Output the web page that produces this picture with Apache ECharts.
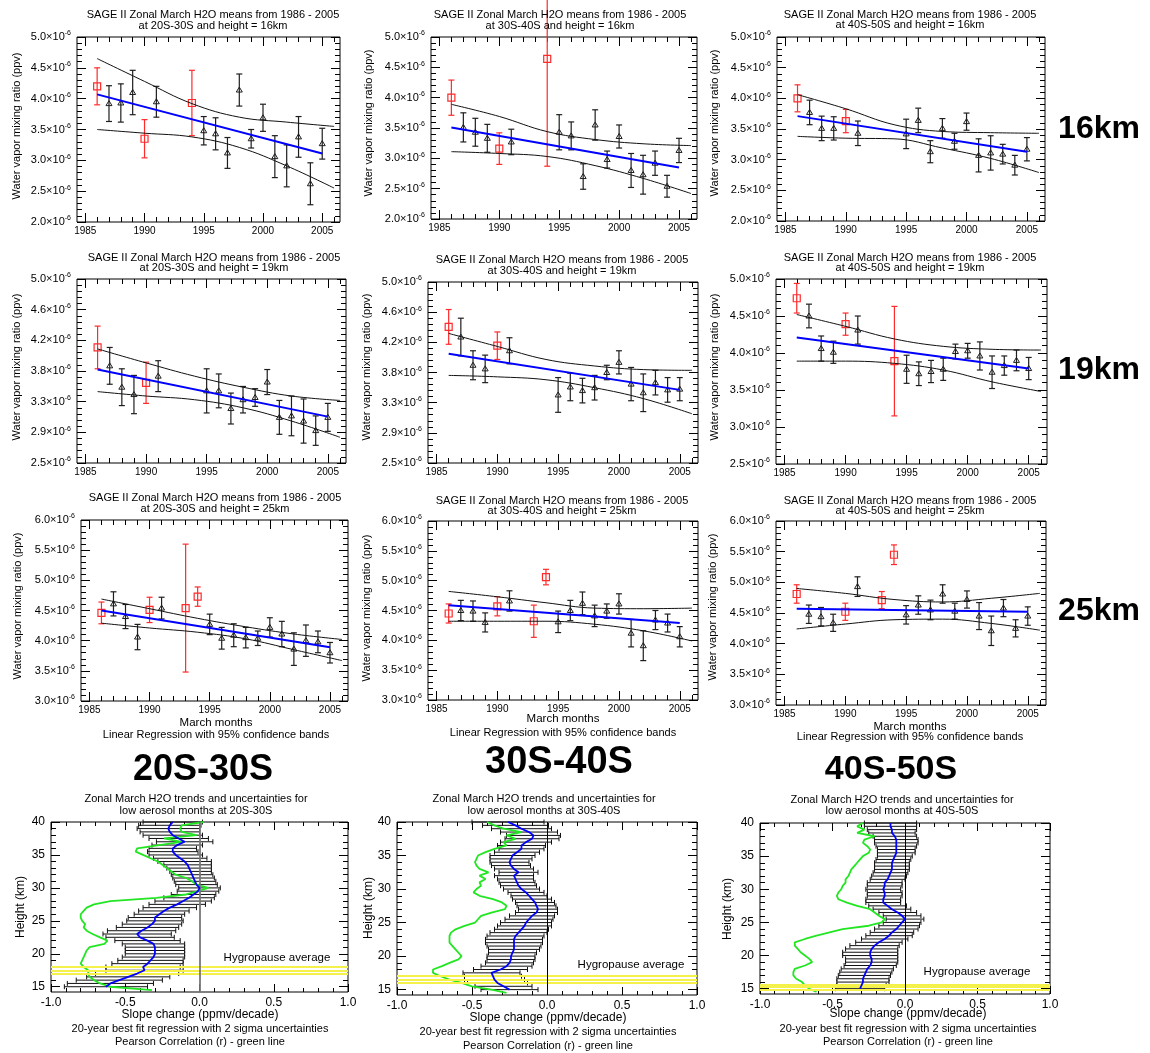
<!DOCTYPE html>
<html><head><meta charset="utf-8">
<script src="https://cdn.jsdelivr.net/npm/echarts@6/dist/echarts.min.js"></script>
<style>html,body{margin:0;padding:0;background:#fff}#c{width:1150px;height:1053px}</style>
</head><body><div id="c"></div>
<script>
const FONT = '"Liberation Sans", Arial, Helvetica, sans-serif';

// ---------------- tick labels ----------------
const yearTicks = [1985, 1990, 1995, 2000, 2005];
const yearLabels = ['1985', '1990', '1995', '2000', '2005'];
const yearMinor = [1986,1987,1988,1989,1991,1992,1993,1994,1996,1997,1998,1999,2001,2002,2003,2004,2006];
const yTicks16 = [2.0, 2.5, 3.0, 3.5, 4.0, 4.5, 5.0];
const yLabels16 = ['2.0', '2.5', '3.0', '3.5', '4.0', '4.5', '5.0'];
const yTicks19 = [2.5, 2.9166667, 3.3333333, 3.75, 4.1666667, 4.5833333, 5.0];
const yLabels19 = ['2.5', '2.9', '3.3', '3.8', '4.2', '4.6', '5.0'];
const yTicks19b = [2.5, 3.0, 3.5, 4.0, 4.5, 5.0];
const yLabels19b = ['2.5', '3.0', '3.5', '4.0', '4.5', '5.0'];
const yTicks25 = [3.0, 3.5, 4.0, 4.5, 5.0, 5.5, 6.0];
const yLabels25 = ['3.0', '3.5', '4.0', '4.5', '5.0', '5.5', '6.0'];
const slopeTicks = [-1, -0.5, 0, 0.5, 1];
const slopeLabels = ['-1.0', '-0.5', '0.0', '0.5', '1.0'];
const heightTicks = [15, 20, 25, 30, 35, 40];
const heightLabels = ['15', '20', '25', '30', '35', '40'];

// ---------------- scatter data (values in units of 1e-6 ppv) ----------------
const fitYears = [1986, 2005];
const bandYears = [1986, 1990, 1994, 1998, 2002, 2006];

// 16 km, 20S-30S
const yrs16_2030 = [1986,1987,1988,1989,1990,1991,1994,1995,1996,1997,1998,1999,2000,2001,2002,2003,2004,2005];
const h2o16_2030 = [4.20,3.92,3.93,4.10,3.35,3.95,3.93,3.48,3.43,3.12,4.14,3.35,3.69,3.06,2.91,3.38,2.62,3.27];
const err16_2030 = [0.30,0.29,0.31,0.36,0.31,0.25,0.53,0.23,0.26,0.25,0.26,0.15,0.22,0.34,0.34,0.33,0.34,0.25];
const red16_2030 = [1986, 1990, 1994];
const fit16_2030 = [4.07, 3.11];
const up16_2030 = [4.65, 4.28, 3.92, 3.70, 3.62, 3.55];
const lo16_2030 = [3.50, 3.44, 3.38, 3.21, 2.91, 2.55];

// 16 km, 30S-40S
const yrs16_3040 = [1986,1987,1988,1989,1990,1991,1994,1995,1996,1997,1998,1999,2000,2001,2002,2003,2004,2005];
const h2o16_3040 = [4.00,3.51,3.43,3.33,3.16,3.27,4.64,3.43,3.37,2.70,3.55,2.98,3.36,2.80,2.73,2.92,2.54,3.13];
const err16_3040 = [0.29,0.24,0.23,0.23,0.26,0.21,1.77,0.29,0.23,0.21,0.25,0.14,0.19,0.28,0.32,0.20,0.18,0.20];
const red16_3040 = [1986, 1990, 1994];
const fit16_3040 = [3.51, 2.85];
const up16_3040 = [3.89, 3.69, 3.44, 3.31, 3.24, 3.21];
const lo16_3040 = [3.11, 3.08, 3.03, 2.88, 2.67, 2.42];

// 16 km, 40S-50S
const yrs16_4050 = [1986,1987,1988,1989,1990,1991,1995,1996,1997,1998,1999,2000,2001,2002,2003,2004,2005];
const h2o16_4050 = [4.00,3.77,3.51,3.51,3.63,3.43,3.42,3.64,3.13,3.51,3.30,3.62,3.07,3.11,3.09,2.91,3.17];
const err16_4050 = [0.22,0.20,0.20,0.19,0.19,0.20,0.24,0.20,0.18,0.16,0.13,0.14,0.27,0.28,0.16,0.16,0.19];
const red16_4050 = [1986, 1990];
const fit16_4050 = [3.71, 3.13];
const up16_4050 = [4.06, 3.83, 3.57, 3.46, 3.44, 3.43];
const lo16_4050 = [3.38, 3.35, 3.34, 3.19, 3.02, 2.79];

// 19 km, 20S-30S
const yrs19_2030 = [1986,1987,1988,1989,1990,1991,1995,1996,1997,1998,1999,2000,2001,2002,2003,2004,2005];
const h2o19_2030 = [4.07,3.82,3.53,3.43,3.59,3.68,3.48,3.48,3.24,3.36,3.39,3.60,3.12,3.14,3.07,2.94,3.12];
const err19_2030 = [0.29,0.25,0.25,0.26,0.28,0.21,0.30,0.23,0.21,0.18,0.12,0.17,0.23,0.27,0.30,0.20,0.19];
const red19_2030 = [1986, 1990];
const fit19_2030 = [3.77, 3.13];
const up19_2030 = [4.05, 3.86, 3.68, 3.53, 3.41, 3.35];
const lo19_2030 = [3.47, 3.41, 3.36, 3.25, 3.07, 2.85];

// 19 km, 30S-40S
const yrs19_3040 = [1986,1987,1988,1989,1990,1991,1995,1996,1997,1998,1999,2000,2001,2002,2003,2004,2005];
const h2o19_3040 = [4.38,4.24,3.85,3.80,4.12,4.05,3.44,3.55,3.50,3.54,3.75,3.89,3.59,3.47,3.61,3.51,3.52];
const err19_3040 = [0.24,0.26,0.20,0.19,0.19,0.18,0.24,0.19,0.17,0.17,0.10,0.16,0.23,0.26,0.17,0.17,0.16];
const red19_3040 = [1986, 1990];
const fit19_3040 = [4.01, 3.51];
const up19_3040 = [4.29, 4.11, 3.93, 3.84, 3.79, 3.78];
const lo19_3040 = [3.71, 3.69, 3.65, 3.54, 3.39, 3.18];

// 19 km, 40S-50S
const yrs19_4050 = [1986,1987,1988,1989,1990,1991,1994,1995,1996,1997,1998,1999,2000,2001,2002,2003,2004,2005];
const h2o19_4050 = [4.74,4.50,4.06,4.01,4.39,4.31,3.89,3.78,3.72,3.75,3.78,4.02,4.03,3.96,3.74,3.83,3.90,3.79];
const err19_4050 = [0.20,0.16,0.17,0.15,0.15,0.19,0.74,0.19,0.16,0.15,0.15,0.10,0.10,0.19,0.22,0.13,0.14,0.15];
const red19_4050 = [1986, 1990, 1994];
const fit19_4050 = [4.21, 3.79];
const up19_4050 = [4.52, 4.36, 4.19, 4.09, 4.05, 4.04];
const lo19_4050 = [3.89, 3.89, 3.86, 3.77, 3.61, 3.48];

// 25 km, 20S-30S
const yrs25_2030 = [1986,1987,1988,1989,1990,1991,1993,1994,1995,1996,1997,1998,1999,2000,2001,2002,2003,2004,2005];
const h2o25_2030 = [4.46,4.61,4.40,4.06,4.51,4.54,4.54,4.73,4.27,4.04,4.09,4.05,4.04,4.22,4.11,3.86,4.00,3.98,3.80];
const err25_2030 = [0.18,0.20,0.20,0.21,0.21,0.18,1.06,0.16,0.17,0.18,0.19,0.17,0.12,0.16,0.21,0.27,0.26,0.18,0.17];
const red25_2030 = [1986, 1990, 1993, 1994];
const fit25_2030 = [4.50, 3.89];
const up25_2030 = [4.69, 4.53, 4.37, 4.23, 4.11, 4.02];
const lo25_2030 = [4.29, 4.21, 4.14, 4.03, 3.85, 3.67];

// 25 km, 30S-40S
const yrs25_3040 = [1986,1987,1988,1989,1990,1991,1993,1994,1995,1996,1997,1998,1999,2000,2001,2002,2003,2004,2005];
const h2o25_3040 = [4.45,4.50,4.49,4.30,4.57,4.66,4.32,5.06,4.31,4.50,4.62,4.41,4.49,4.61,4.12,3.91,4.34,4.29,4.06];
const err25_3040 = [0.16,0.17,0.17,0.16,0.16,0.17,0.27,0.13,0.18,0.17,0.19,0.18,0.12,0.17,0.23,0.25,0.16,0.15,0.17];
const red25_3040 = [1986, 1990, 1993, 1994];
const fit25_3040 = [4.59, 4.29];
const up25_3040 = [4.82, 4.73, 4.63, 4.54, 4.53, 4.54];
const lo25_3040 = [4.32, 4.32, 4.32, 4.27, 4.16, 3.99];

// 25 km, 40S-50S
const yrs25_4050 = [1986,1987,1988,1989,1990,1991,1993,1994,1995,1996,1997,1998,1999,2000,2001,2002,2003,2004,2005];
const h2o25_4050 = [4.81,4.48,4.44,4.34,4.52,4.93,4.71,5.45,4.47,4.63,4.55,4.81,4.53,4.72,4.45,4.21,4.58,4.25,4.45];
const err25_4050 = [0.15,0.15,0.15,0.14,0.14,0.16,0.14,0.16,0.15,0.15,0.16,0.15,0.13,0.14,0.22,0.24,0.14,0.14,0.15];
const red25_4050 = [1986, 1990, 1993, 1994];
const fit25_4050 = [4.57, 4.52];
const up25_4050 = [4.90, 4.82, 4.72, 4.68, 4.74, 4.82];
const lo25_4050 = [4.24, 4.32, 4.39, 4.40, 4.33, 4.22];

// ---------------- profile data ----------------
const heights = [15,15.5,16,16.5,17,17.5,18,18.5,19,19.5,20,20.5,21,21.5,22,22.5,23,23.5,24,24.5,25,25.5,26,26.5,27,27.5,28,28.5,29,29.5,30,30.5,31,31.5,32,32.5,33,33.5,34,34.5,35,35.5,36,36.5,37,37.5,38,38.5,39,39.5,40];
const rHeights = [14.5,15,15.5,16,16.5,17,17.5,18,18.5,19,19.5,20,20.5,21,21.5,22,22.5,23,23.5,24,24.5,25,25.5,26,26.5,27,27.5,28,28.5,29,29.5,30,30.5,31,31.5,32,32.5,33,33.5,34,34.5,35,35.5,36,36.5,37,37.5,38,38.5,39,39.5,40];

const slope2030 = [-0.63,-0.60,-0.54,-0.48,-0.42,-0.37,-0.38,-0.35,-0.33,-0.31,-0.30,-0.30,-0.30,-0.31,-0.35,-0.40,-0.42,-0.39,-0.35,-0.32,-0.30,-0.30,-0.27,-0.24,-0.20,-0.15,-0.11,-0.07,-0.04,-0.01,0.00,-0.02,-0.03,-0.04,-0.05,-0.06,-0.07,-0.08,-0.10,-0.13,-0.16,-0.18,-0.18,-0.15,-0.10,-0.14,-0.18,-0.20,-0.21,-0.20,-0.18];
const sigma2030 = [0.28,0.29,0.29,0.28,0.28,0.26,0.25,0.24,0.22,0.21,0.20,0.20,0.20,0.21,0.22,0.23,0.23,0.23,0.21,0.20,0.19,0.18,0.17,0.17,0.18,0.19,0.19,0.17,0.15,0.14,0.14,0.14,0.14,0.14,0.14,0.14,0.15,0.16,0.18,0.18,0.18,0.17,0.16,0.17,0.19,0.20,0.20,0.20,0.21,0.21,0.20];
const corr2030 = [-0.32,-0.60,-0.67,-0.71,-0.74,-0.75,-0.75,-0.78,-0.80,-0.79,-0.78,-0.77,-0.76,-0.74,-0.64,-0.62,-0.67,-0.72,-0.76,-0.78,-0.77,-0.79,-0.80,-0.80,-0.78,-0.76,-0.71,-0.60,-0.29,-0.09,-0.01,0.06,-0.02,-0.05,-0.09,-0.16,-0.19,-0.22,-0.25,-0.28,-0.33,-0.38,-0.43,-0.42,-0.27,-0.12,-0.24,-0.02,-0.12,-0.13,-0.12,0.03];
const hygro2030 = [17.0, 17.5, 18.0];

const slope3040 = [-0.25,-0.29,-0.33,-0.35,-0.36,-0.37,-0.31,-0.27,-0.25,-0.24,-0.24,-0.23,-0.22,-0.22,-0.22,-0.22,-0.21,-0.19,-0.17,-0.15,-0.14,-0.12,-0.10,-0.07,-0.06,-0.07,-0.08,-0.10,-0.12,-0.14,-0.17,-0.19,-0.20,-0.21,-0.22,-0.19,-0.22,-0.24,-0.25,-0.24,-0.23,-0.20,-0.17,-0.17,-0.14,-0.10,-0.09,-0.12,-0.17,-0.21,-0.26];
const sigma3040 = [0.19,0.19,0.20,0.20,0.19,0.19,0.18,0.17,0.16,0.16,0.16,0.16,0.17,0.18,0.19,0.19,0.19,0.19,0.18,0.18,0.17,0.16,0.15,0.14,0.13,0.13,0.13,0.13,0.12,0.12,0.12,0.12,0.12,0.12,0.13,0.13,0.13,0.13,0.13,0.14,0.15,0.15,0.15,0.16,0.17,0.18,0.18,0.19,0.20,0.22,0.24];
const corr3040 = [-0.27,-0.37,-0.50,-0.57,-0.65,-0.71,-0.76,-0.76,-0.70,-0.65,-0.59,-0.57,-0.59,-0.61,-0.63,-0.65,-0.65,-0.65,-0.64,-0.61,-0.55,-0.48,-0.46,-0.44,-0.37,-0.28,-0.27,-0.30,-0.36,-0.45,-0.49,-0.47,-0.44,-0.45,-0.41,-0.45,-0.39,-0.45,-0.47,-0.48,-0.47,-0.46,-0.41,-0.35,-0.27,-0.29,-0.21,-0.27,-0.17,-0.29,-0.35,-0.40];
const hygro3040 = [16.0, 16.5, 17.0];

const slope4050 = [-0.31,-0.30,-0.29,-0.29,-0.28,-0.27,-0.26,-0.24,-0.23,-0.23,-0.24,-0.24,-0.23,-0.21,-0.18,-0.14,-0.11,-0.09,-0.06,-0.04,-0.02,0.00,-0.02,-0.05,-0.09,-0.12,-0.15,-0.15,-0.14,-0.14,-0.15,-0.14,-0.14,-0.12,-0.11,-0.10,-0.09,-0.09,-0.09,-0.08,-0.07,-0.06,-0.06,-0.06,-0.06,-0.06,-0.07,-0.09,-0.09,-0.10,-0.10];
const sigma4050 = [0.17,0.17,0.18,0.18,0.18,0.18,0.18,0.18,0.18,0.18,0.19,0.19,0.18,0.17,0.16,0.16,0.16,0.15,0.15,0.14,0.13,0.13,0.13,0.13,0.13,0.13,0.12,0.12,0.12,0.12,0.12,0.12,0.12,0.12,0.12,0.12,0.12,0.12,0.12,0.12,0.12,0.13,0.13,0.14,0.15,0.15,0.15,0.16,0.17,0.18,0.18];
const corr4050 = [-0.61,-0.66,-0.69,-0.71,-0.75,-0.77,-0.77,-0.76,-0.69,-0.64,-0.66,-0.69,-0.72,-0.74,-0.76,-0.76,-0.69,-0.61,-0.52,-0.43,-0.25,-0.16,-0.14,-0.18,-0.21,-0.24,-0.33,-0.40,-0.46,-0.47,-0.46,-0.44,-0.43,-0.41,-0.41,-0.39,-0.38,-0.37,-0.35,-0.33,-0.31,-0.29,-0.25,-0.24,-0.26,-0.29,-0.28,-0.21,-0.33,-0.28,-0.33,-0.29];
const hygro4050 = [14.9, 15.25, 15.6];

// ---------------- helpers ----------------
const grids = [], xAxes = [], yAxes = [], series = [], graphics = [];
function lab(v, ticks, labels) {
  for (let i = 0; i < ticks.length; i++) if (Math.abs(v - ticks[i]) < 1e-3) return labels[i];
  return '';
}
function minorFromTicks(t, n) {
  const out = [];
  for (let i = 0; i < t.length - 1; i++) for (let k = 1; k < n; k++) out.push(t[i] + (t[i + 1] - t[i]) * k / n);
  return out;
}
function tick(vals, len) {
  return {show: true, inside: true, length: len, customValues: vals, lineStyle: {color: '#000', width: 1}};
}
function frame(box, X, Y) {
  const gi = grids.length;
  grids.push({left: box.l, top: box.t, width: box.w, height: box.h, show: true, borderColor: '#000', borderWidth: 1, backgroundColor: 'rgba(0,0,0,0)'});
  const xi = xAxes.length, yi = yAxes.length;
  const noLine = {show: false, onZero: false};
  const bx = {gridIndex: gi, type: 'value', min: X.min, max: X.max, axisLine: noLine, splitLine: {show: false}};
  xAxes.push(Object.assign({}, bx, {position: 'bottom', axisTick: tick(X.ticks, X.maj),
    axisLabel: {show: true, customValues: X.ticks, formatter: v => lab(v, X.ticks, X.labels), margin: X.margin, fontSize: X.fs, fontFamily: FONT, color: '#000'}}));
  xAxes.push(Object.assign({}, bx, {position: 'bottom', axisTick: tick(X.minor, X.mnr), axisLabel: {show: false}}));
  xAxes.push(Object.assign({}, bx, {position: 'top', axisTick: tick(X.ticks, X.maj), axisLabel: {show: false}}));
  xAxes.push(Object.assign({}, bx, {position: 'top', axisTick: tick(X.minor, X.mnr), axisLabel: {show: false}}));
  const by = {gridIndex: gi, type: 'value', min: Y.min, max: Y.max, axisLine: noLine, splitLine: {show: false}};
  yAxes.push(Object.assign({}, by, {position: 'left', axisTick: tick(Y.ticks, Y.maj),
    axisLabel: {show: true, customValues: Y.ticks, formatter: Y.fmt, rich: Y.rich, margin: Y.margin, fontSize: Y.fs, fontFamily: FONT, color: '#000'}}));
  yAxes.push(Object.assign({}, by, {position: 'left', axisTick: tick(Y.minor, Y.mnr), axisLabel: {show: false}}));
  yAxes.push(Object.assign({}, by, {position: 'right', axisTick: tick(Y.ticks, Y.maj), axisLabel: {show: false}}));
  yAxes.push(Object.assign({}, by, {position: 'right', axisTick: tick(Y.minor, Y.mnr), axisLabel: {show: false}}));
  return {xi, yi};
}
function txt(x, y, s, size, opt) {
  opt = opt || {};
  graphics.push({type: 'text', x: x, y: y, rotation: opt.rot || 0, silent: true, z: 50,
    style: {text: s, fill: '#000', fontSize: size, fontFamily: FONT, fontWeight: opt.bold ? 'bold' : 'normal', align: 'center', verticalAlign: 'middle'}});
}
function vbar(color, marker) {
  return function (params, api) {
    const x = api.value(0), y = api.value(1), e = api.value(2);
    const p = api.coord([x, y]), pt = api.coord([x, y + e]), pb = api.coord([x, y - e]);
    const cw = 3, st = {stroke: color, lineWidth: 1.2};
    const ch = [
      {type: 'line', shape: {x1: p[0], y1: pt[1], x2: p[0], y2: pb[1]}, style: st},
      {type: 'line', shape: {x1: p[0] - cw, y1: pt[1], x2: p[0] + cw, y2: pt[1]}, style: st},
      {type: 'line', shape: {x1: p[0] - cw, y1: pb[1], x2: p[0] + cw, y2: pb[1]}, style: st}
    ];
    if (marker === 'tri') {
      ch.push({type: 'polygon', shape: {points: [[p[0], p[1] - 3], [p[0] - 3, p[1] + 2], [p[0] + 3, p[1] + 2]]}, style: {fill: 'none', stroke: color, lineWidth: 1}});
    } else {
      ch.push({type: 'rect', shape: {x: p[0] - 3.5, y: p[1] - 3.5, width: 7, height: 7}, style: {fill: 'none', stroke: color, lineWidth: 1.2}});
    }
    return {type: 'group', children: ch};
  };
}
function hbar(params, api) {
  const x = api.value(0), h = api.value(1), e = api.value(2);
  const l = api.coord([x - e, h]), r = api.coord([x + e, h]);
  const st = {stroke: '#111', lineWidth: 1};
  return {type: 'group', children: [
    {type: 'line', shape: {x1: l[0], y1: l[1], x2: r[0], y2: r[1]}, style: st},
    {type: 'line', shape: {x1: l[0], y1: l[1] - 2.5, x2: l[0], y2: l[1] + 2.5}, style: st},
    {type: 'line', shape: {x1: r[0], y1: r[1] - 2.5, x2: r[0], y2: r[1] + 2.5}, style: st}
  ]};
}

// ---------------- scatter panels ----------------
const sciRich = {
  m: {fontSize: 11, fontFamily: FONT, color: '#000', lineHeight: 14},
  s: {fontSize: 7, fontFamily: FONT, color: '#000', verticalAlign: 'top', lineHeight: 8}
};
const scatterPanels = [
  {box: {l: 77, t: 37, w: 263, h: 185}, yt: yTicks16, yl: yLabels16, yrs: yrs16_2030, val: h2o16_2030, err: err16_2030, red: red16_2030, fit: fit16_2030, up: up16_2030, lo: lo16_2030, title: [213, 15, 25.5], zone: '20S-30S', km: '16km', yname: [17, 126]},
  {box: {l: 431, t: 37, w: 266, h: 182}, yt: yTicks16, yl: yLabels16, yrs: yrs16_3040, val: h2o16_3040, err: err16_3040, red: red16_3040, fit: fit16_3040, up: up16_3040, lo: lo16_3040, title: [560, 15, 25.5], zone: '30S-40S', km: '16km', yname: [369, 123]},
  {box: {l: 777, t: 37, w: 268, h: 184}, yt: yTicks16, yl: yLabels16, yrs: yrs16_4050, val: h2o16_4050, err: err16_4050, red: red16_4050, fit: fit16_4050, up: up16_4050, lo: lo16_4050, title: [910, 15, 25], zone: '40S-50S', km: '16km', yname: [715, 123]},
  {box: {l: 77, t: 279, w: 269, h: 184}, yt: yTicks19, yl: yLabels19, yrs: yrs19_2030, val: h2o19_2030, err: err19_2030, red: red19_2030, fit: fit19_2030, up: up19_2030, lo: lo19_2030, title: [214, 257.7, 268.3], zone: '20S-30S', km: '19km', yname: [17, 367]},
  {box: {l: 428, t: 282, w: 270, h: 181}, yt: yTicks19, yl: yLabels19, yrs: yrs19_3040, val: h2o19_3040, err: err19_3040, red: red19_3040, fit: fit19_3040, up: up19_3040, lo: lo19_3040, title: [562, 260, 271], zone: '30S-40S', km: '19km', yname: [367, 367]},
  {box: {l: 776, t: 279, w: 271, h: 185}, yt: yTicks19b, yl: yLabels19b, yrs: yrs19_4050, val: h2o19_4050, err: err19_4050, red: red19_4050, fit: fit19_4050, up: up19_4050, lo: lo19_4050, title: [910, 257.7, 268.3], zone: '40S-50S', km: '19km', yname: [715, 367]},
  {box: {l: 81, t: 520, w: 267, h: 181}, yt: yTicks25, yl: yLabels25, yrs: yrs25_2030, val: h2o25_2030, err: err25_2030, red: red25_2030, fit: fit25_2030, up: up25_2030, lo: lo25_2030, title: [215, 498, 508.7], zone: '20S-30S', km: '25km', yname: [18, 606], foot: [216, 723, 735]},
  {box: {l: 428, t: 521, w: 270, h: 179}, yt: yTicks25, yl: yLabels25, yrs: yrs25_3040, val: h2o25_3040, err: err25_3040, red: red25_3040, fit: fit25_3040, up: up25_3040, lo: lo25_3040, title: [562, 500.7, 511.3], zone: '30S-40S', km: '25km', yname: [367, 608], foot: [563, 719, 733]},
  {box: {l: 776, t: 521, w: 270, h: 184}, yt: yTicks25, yl: yLabels25, yrs: yrs25_4050, val: h2o25_4050, err: err25_4050, red: red25_4050, fit: fit25_4050, up: up25_4050, lo: lo25_4050, title: [910, 500.7, 511.3], zone: '40S-50S', km: '25km', yname: [713, 607], foot: [910, 727, 737]}
];

scatterPanels.forEach(p => {
  const yt = p.yt, yl = p.yl;
  const ax = frame(p.box,
    {min: 1984.3, max: 2006.5, ticks: yearTicks, labels: yearLabels, minor: yearMinor, maj: 9, mnr: 5, margin: 4, fs: 10},
    {min: yt[0], max: yt[yt.length - 1], ticks: yt, minor: minorFromTicks(yt, 5), maj: 9, mnr: 5, margin: 6, fs: 11,
      fmt: v => '{m|' + lab(v, yt, yl) + '×10}{s|-6}', rich: sciRich});
  const black = [], red = [];
  p.yrs.forEach((y, i) => { (p.red.indexOf(y) >= 0 ? red : black).push([y, p.val[i], p.err[i]]); });
  series.push({type: 'custom', xAxisIndex: ax.xi, yAxisIndex: ax.yi, data: black, encode: {x: 0, y: 1}, renderItem: vbar('#1e1e1e', 'tri'), silent: true, z: 3});
  series.push({type: 'custom', xAxisIndex: ax.xi, yAxisIndex: ax.yi, data: red, encode: {x: 0, y: 1}, renderItem: vbar('#ff2a2a', 'sq'), silent: true, z: 4});
  series.push({type: 'line', xAxisIndex: ax.xi, yAxisIndex: ax.yi, data: fitYears.map((y, i) => [y, p.fit[i]]), symbol: 'none', silent: true, lineStyle: {color: '#0000ff', width: 2}, z: 6});
  series.push({type: 'line', xAxisIndex: ax.xi, yAxisIndex: ax.yi, data: bandYears.map((y, i) => [y, p.up[i]]), smooth: 0.4, symbol: 'none', silent: true, lineStyle: {color: '#111', width: 1}, z: 5});
  series.push({type: 'line', xAxisIndex: ax.xi, yAxisIndex: ax.yi, data: bandYears.map((y, i) => [y, p.lo[i]]), smooth: 0.4, symbol: 'none', silent: true, lineStyle: {color: '#111', width: 1}, z: 5});
  txt(p.title[0], p.title[1], 'SAGE II Zonal March H2O means from 1986 - 2005', 11);
  txt(p.title[0], p.title[2], 'at ' + p.zone + ' and height = ' + p.km, 11);
  txt(p.yname[0], p.yname[1], 'Water vapor mixing ratio (ppv)', 11, {rot: Math.PI / 2});
  if (p.foot) {
    txt(p.foot[0], p.foot[1], 'March months', 11.5);
    txt(p.foot[0], p.foot[2], 'Linear Regression with 95% confidence bands', 11);
  }
});

// ---------------- profile panels ----------------
const profilePanels = [
  {box: {l: 51, t: 822, w: 297, h: 170}, slope: slope2030, sig: sigma2030, corr: corr2030, hyg: hygro2030, zone: '20S-30S', title: [196, 799.3, 810.7], foot: [200, 1015, 1029, 1042], hygTxt: [277, 958], yname: [21, 907], zeroColor: '#777', zeroW: 1.8},
  {box: {l: 397, t: 822, w: 300, h: 173}, slope: slope3040, sig: sigma3040, corr: corr3040, hyg: hygro3040, zone: '30S-40S', title: [544, 799.3, 810.7], foot: [548, 1018, 1032, 1046], hygTxt: [631, 965], yname: [369, 908], zeroColor: '#000', zeroW: 1},
  {box: {l: 760, t: 823, w: 290, h: 171}, slope: slope4050, sig: sigma4050, corr: corr4050, hyg: hygro4050, zone: '40S-50S', title: [902, 800, 810.7], foot: [908, 1014, 1029, 1042], hygTxt: [977, 972], yname: [728, 909], zeroColor: '#000', zeroW: 1}
];
profilePanels.forEach(p => {
  const ax = frame(p.box,
    {min: -1, max: 1, ticks: slopeTicks, labels: slopeLabels, minor: minorFromTicks(slopeTicks, 5), maj: 8, mnr: 4, margin: 5, fs: 12},
    {min: 14.2, max: 40, ticks: heightTicks, minor: minorFromTicks(heightTicks, 5), maj: 9, mnr: 5, margin: 6, fs: 12,
      fmt: v => lab(v, heightTicks, heightLabels)});
  series.push({type: 'custom', xAxisIndex: ax.xi, yAxisIndex: ax.yi, data: heights.map((h, i) => [p.slope[i], h, p.sig[i]]), encode: {x: 0, y: 1}, renderItem: hbar, silent: true, z: 3});
  series.push({type: 'line', xAxisIndex: ax.xi, yAxisIndex: ax.yi, data: rHeights.map((h, i) => [p.corr[i], h]), symbol: 'none', silent: true, lineStyle: {color: '#22e622', width: 1.8}, z: 4,
    markLine: {silent: true, symbol: 'none', label: {show: false}, animation: false, data: p.hyg.map(h => ({yAxis: h})), lineStyle: {color: '#f4f24a', width: 2, type: 'solid'}}});
  series.push({type: 'line', xAxisIndex: ax.xi, yAxisIndex: ax.yi, data: heights.map((h, i) => [p.slope[i], h]), symbol: 'none', silent: true, lineStyle: {color: '#0000ff', width: 1.8}, z: 5,
    markLine: {silent: true, symbol: 'none', label: {show: false}, animation: false, data: [{xAxis: 0}], lineStyle: {color: p.zeroColor, width: p.zeroW, type: 'solid'}}});
  txt(p.title[0], p.title[1], 'Zonal March H2O trends and uncertainties for', 11);
  txt(p.title[0], p.title[2], 'low aerosol months at ' + p.zone, 11);
  txt(p.foot[0], p.foot[1], 'Slope change (ppmv/decade)', 12);
  txt(p.foot[0], p.foot[2], '20-year best fit regression with 2 sigma uncertainties', 11);
  txt(p.foot[0], p.foot[3], 'Pearson Correlation (r) - green line', 11);
  txt(p.hygTxt[0], p.hygTxt[1], 'Hygropause average', 11.5);
  txt(p.yname[0], p.yname[1], 'Height (km)', 12, {rot: Math.PI / 2});
});

// ---------------- big row / column labels ----------------
txt(1099, 129, '16km', 32, {bold: true});
txt(1099, 370, '19km', 32, {bold: true});
txt(1099, 611, '25km', 32, {bold: true});
txt(203, 770, '20S-30S', 36, {bold: true});
txt(559, 763, '30S-40S', 38, {bold: true});
txt(891, 770, '40S-50S', 34, {bold: true});

const chart = echarts.init(document.getElementById('c'), null, {renderer: 'canvas', width: 1150, height: 1053});
chart.setOption({
  animation: false,
  backgroundColor: '#fff',
  grid: grids, xAxis: xAxes, yAxis: yAxes, series: series,
  graphic: {elements: graphics}
});
</script></body></html>
